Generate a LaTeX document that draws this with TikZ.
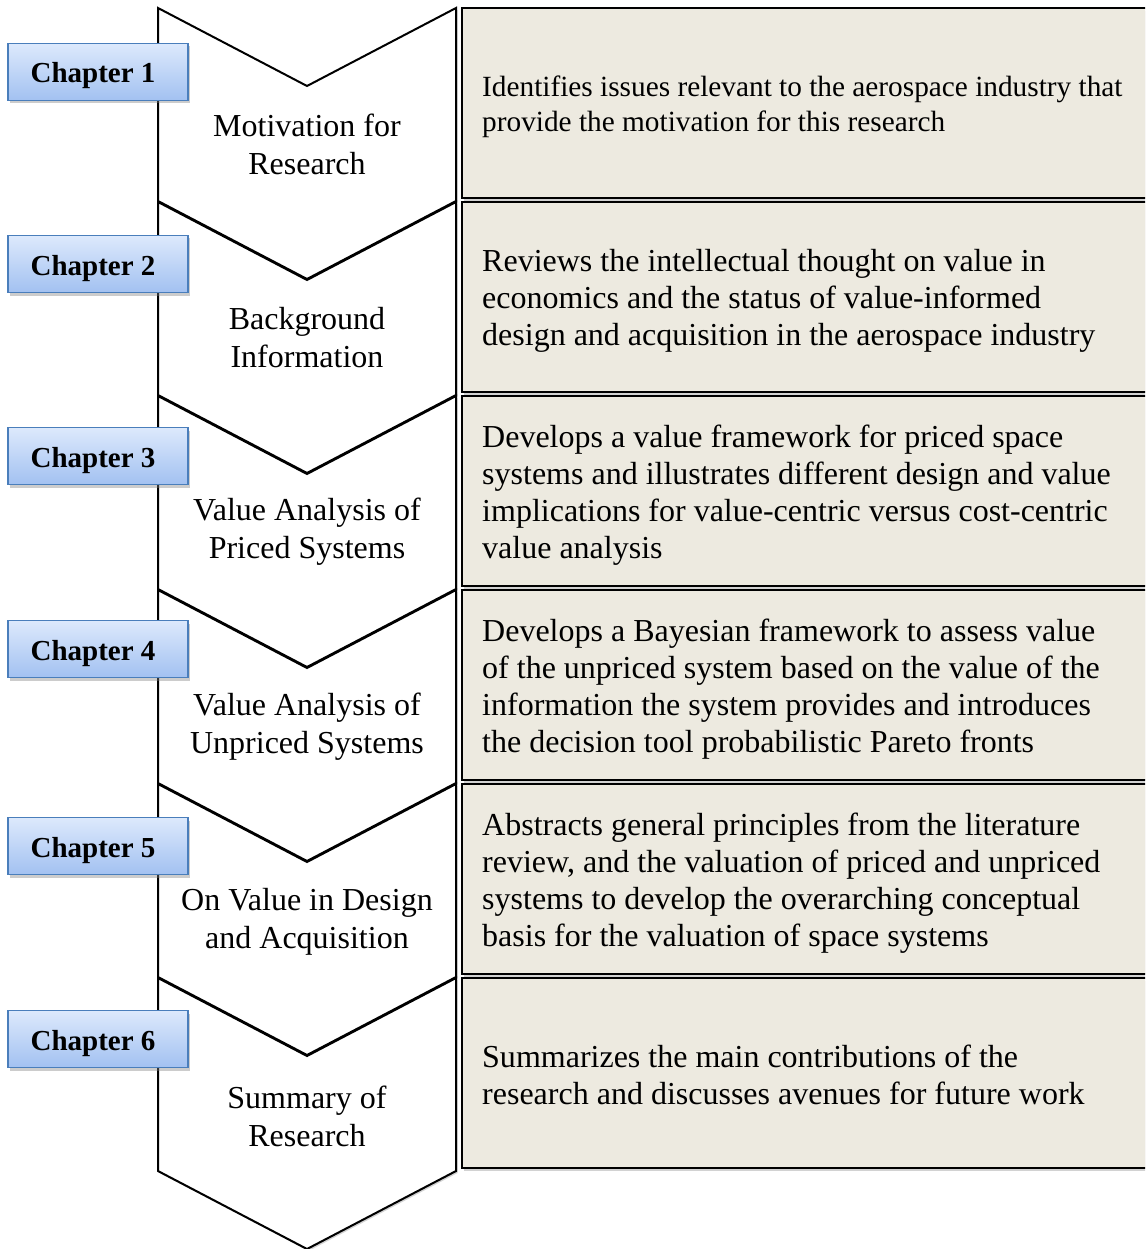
\documentclass[tikz,border=0pt]{standalone}
\usepackage{fontspec}
\setmainfont{Liberation Serif}
\usetikzlibrary{shadows}
\definecolor{boxfill}{HTML}{EDEAE0}
\definecolor{chtop}{HTML}{DDE9FC}
\definecolor{chbot}{HTML}{A2C1F1}
\definecolor{chborder}{HTML}{4A7EBB}
\begin{document}
\begin{tikzpicture}[x=1pt,y=-1pt,
  chev/.style={draw=black, line width=2pt, fill=white, line join=miter,
    drop shadow={shadow xshift=1.5pt, shadow yshift=-2pt, opacity=0.35}},
  descbox/.style={draw=black, line width=2pt, fill=boxfill,
    drop shadow={shadow xshift=2pt, shadow yshift=-3pt, opacity=0.35}},
  chapbox/.style={draw=chborder, line width=1.5pt, top color=chtop, bottom color=chbot,
    minimum width=180pt, minimum height=57pt, inner sep=0pt,
    text height=28pt, text depth=6pt,
    font=\fontsize{29}{32}\selectfont\bfseries,
    drop shadow={shadow xshift=2pt, shadow yshift=-3pt, opacity=0.4}},
  chevtext/.style={align=center, font=\fontsize{32}{38}\selectfont, inner sep=0pt},
  desctext/.style={align=left, anchor=west, font=\fontsize{32}{37}\selectfont, inner sep=0pt},
  desctextsmall/.style={desctext, font=\fontsize{29.3}{35}\selectfont}]
\clip (0,0) rectangle (1145,1249);
\fill[white] (0,0) rectangle (1145,1249);
% chevrons
\foreach \k in {1,...,6}{
  \pgfmathsetmacro{\t}{8+194*(\k-1)}
  \pgfmathsetmacro{\n}{\t+78}
  \pgfmathsetmacro{\s}{\t+193}
  \pgfmathsetmacro{\p}{\t+271}
  \path[chev] (158,\t) -- (307,\n) -- (456,\t) -- (456,\s) -- (307,\p) -- (158,\s) -- cycle;
}
% description boxes
\foreach \k in {1,...,6}{
  \pgfmathsetmacro{\t}{8+194*(\k-1)}
  \pgfmathsetmacro{\b}{\t+190}
  \path[descbox] (462,\t) rectangle (1160,\b);
}
% chevron texts
\node[chevtext] (m1) at (307,144) {Motivation for\\Research};
\node[chevtext] (m2) at (307,338) {Background\\Information};
\node[chevtext] (m3) at (307,532) {Value Analysis of\\Priced Systems};
\node[chevtext] (m4) at (307,727) {Value Analysis of\\Unpriced Systems};
\node[chevtext] (m5) at (307,922) {On Value in Design\\and Acquisition};
\node[chevtext] (m6) at (307,1116) {Summary of\\Research};
% description texts
\node[desctextsmall] (d1) at (482,107) {Identifies issues relevant to the aerospace industry that\\provide the motivation for this research};
\node[desctext] (d2) at (482,301) {Reviews the intellectual thought on value in\\economics and the status of value-informed\\design and acquisition in the aerospace industry};
\node[desctext] (d3) at (482,495) {Develops a value framework for priced space\\systems and illustrates different design and value\\implications for value-centric versus cost-centric\\value analysis};
\node[desctext] (d4) at (482,689) {Develops a Bayesian framework to assess value\\of the unpriced system based on the value of the\\information the system provides and introduces\\the decision tool probabilistic Pareto fronts};
\node[desctext] (d5) at (482,883) {Abstracts general principles from the literature\\review, and the valuation of priced and unpriced\\systems to develop the overarching conceptual\\basis for the valuation of space systems};
\node[desctext] (d6) at (482,1075) {Summarizes the main contributions of the\\research and discusses avenues for future work};
% chapter labels
\node[chapbox] (c1) at (98,72) {Chapter 1\kern10pt};
\node[chapbox] (c2) at (98,264) {Chapter 2\kern10pt};
\node[chapbox] (c3) at (98,456) {Chapter 3\kern10pt};
\node[chapbox] (c4) at (98,649) {Chapter 4\kern10pt};
\node[chapbox] (c5) at (98,846) {Chapter 5\kern10pt};
\node[chapbox] (c6) at (98,1039) {Chapter 6\kern10pt};
\end{tikzpicture}
\end{document}
